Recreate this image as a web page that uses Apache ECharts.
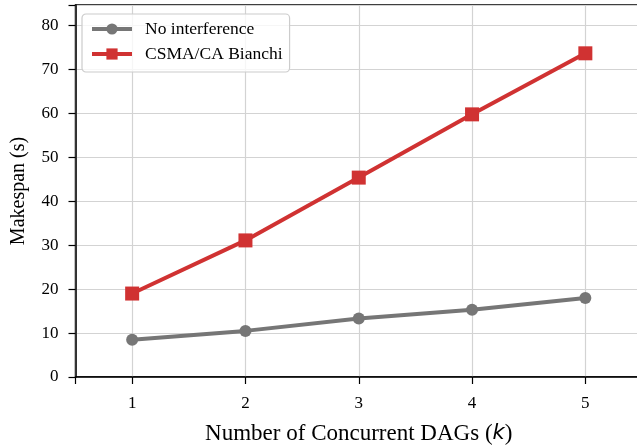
<!DOCTYPE html>
<html>
<head>
<meta charset="utf-8">
<script src="https://cdn.jsdelivr.net/npm/echarts@6/dist/echarts.min.js"></script>
<style>
  html, body { margin: 0; padding: 0; background: #fff; }
  #chart { width: 637px; height: 447px; }
</style>
</head>
<body>
<div id="chart"></div>
<script>
// Concurrent DAG counts (k) and makespan in seconds
const kValues = [1, 2, 3, 4, 5];
const noInterference = [8.5, 10.5, 13.3, 15.3, 18.0];
const csmaBianchi = [19.0, 31.1, 45.4, 59.8, 73.7];
const yTicks = [0, 10, 20, 30, 40, 50, 60, 70, 80];

const serif = '"Liberation Serif", "DejaVu Serif", serif';

const chart = echarts.init(document.getElementById('chart'), null, { renderer: 'canvas' });

chart.setOption({
  animation: false,
  backgroundColor: '#ffffff',
  grid: {
    left: 75.5, right: -5, top: 5, bottom: 70,
    containLabel: false, outerBoundsMode: 'none',
    show: true, borderColor: '#000', borderWidth: 1.5, backgroundColor: 'transparent'
  },
  legend: {
    left: 82, top: 14,
    orient: 'vertical',
    padding: [6, 7, 9, 8],
    itemWidth: 40, itemHeight: 14, itemGap: 7,
    borderColor: '#cccccc', borderWidth: 1.2, borderRadius: 4,
    backgroundColor: 'rgba(255,255,255,0.8)',
    lineStyle: { width: 4 },
    textStyle: { fontFamily: serif, fontSize: 17.5, lineHeight: 18, color: '#000', padding: [0, 0, 0, 8] },
    data: ['No interference', 'CSMA/CA Bianchi']
  },
  xAxis: {
    type: 'value', min: 0.5, max: 5.5,
    name: 'Number of Concurrent DAGs ({k|k})',
    nameLocation: 'middle', nameGap: 45,
    nameTextStyle: {
      fontFamily: serif, fontSize: 23, color: '#000',
      rich: { k: { fontFamily: '"DejaVu Sans", sans-serif', fontStyle: 'italic', fontSize: 21, color: '#000' } }
    },
    axisLine: { onZero: false, lineStyle: { color: '#000', width: 1.5 } },
    axisTick: { show: true, inside: false, length: 7, lineStyle: { color: '#000', width: 1.2 } },
    axisLabel: { customValues: kValues, margin: 18, fontFamily: serif, fontSize: 17, color: '#000' },
    splitLine: { show: true, lineStyle: { color: '#d3d3d3', width: 1.2 } }
  },
  yAxis: {
    type: 'value', min: 0, max: 84.7, interval: 10,
    name: 'Makespan (s)',
    nameLocation: 'middle', nameGap: 47,
    nameTextStyle: { fontFamily: serif, fontSize: 20, color: '#000' },
    axisLine: { show: true, onZero: false, lineStyle: { color: '#000', width: 1.5 } },
    axisTick: { show: true, inside: false, length: 7, lineStyle: { color: '#000', width: 1.2 } },
    axisLabel: { customValues: yTicks, margin: 17, fontFamily: serif, fontSize: 17, color: '#000' },
    splitLine: { show: true, lineStyle: { color: '#d3d3d3', width: 1.2 } }
  },
  series: [
    {
      name: 'No interference', type: 'line',
      data: kValues.map((k, i) => [k, noInterference[i]]),
      symbol: 'circle', symbolSize: 12,
      lineStyle: { color: '#767676', width: 4 },
      itemStyle: { color: '#767676' },
      z: 3
    },
    {
      name: 'CSMA/CA Bianchi', type: 'line',
      data: kValues.map((k, i) => [k, csmaBianchi[i]]),
      symbol: 'rect', symbolSize: 14,
      lineStyle: { color: '#d03232', width: 4 },
      itemStyle: { color: '#d03232' },
      z: 4
    }
  ]
});
</script>
</body>
</html>
